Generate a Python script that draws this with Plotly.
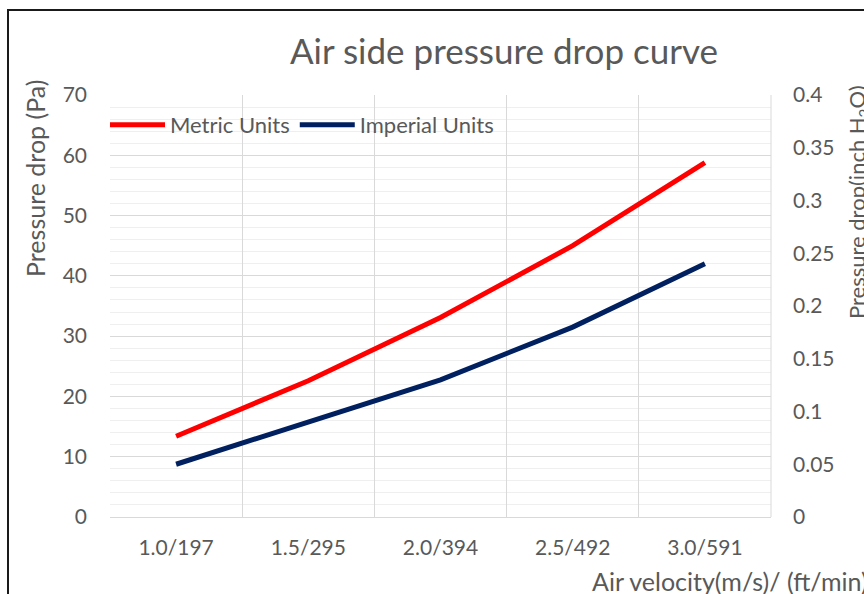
import plotly.graph_objects as go

categories = ["1.0/197", "1.5/295", "2.0/394", "2.5/492", "3.0/591"]
metric_pa = [13.4, 22.6, 33.1, 45.0, 58.8]
imperial_inh2o = [0.05, 0.09, 0.13, 0.18, 0.24]

W, H = 864, 594
L, R, T, B = 110, 93, 95, 77
pw, ph = W - L - R, H - T - B

def px(x):
    return (x - L) / pw

def py(y):
    return (H - B - y) / ph

FONT = "Lato"
GRAY = "#595959"

fig = go.Figure()
fig.add_trace(go.Scatter(x=categories, y=metric_pa, name="Metric Units", mode="lines",
                         line=dict(color="#FF0000", width=5), yaxis="y"))
fig.add_trace(go.Scatter(x=categories, y=imperial_inh2o, name="Imperial Units", mode="lines",
                         line=dict(color="#002060", width=5), yaxis="y2"))

fig.update_layout(
    width=W, height=H,
    margin=dict(l=L, r=R, t=T, b=B),
    paper_bgcolor="white", plot_bgcolor="white",
    font=dict(family=FONT, color=GRAY, size=21),
    title=dict(text="Air side pressure drop curve", xref="container", x=504 / W, xanchor="center",
               yref="container", y=1 - 52 / H, yanchor="middle", font=dict(size=35, color=GRAY)),
    showlegend=True,
    legend=dict(orientation="h", x=px(105), xanchor="left", y=py(125), yanchor="middle",
                bgcolor="rgba(0,0,0,0)", font=dict(size=22, color=GRAY),
                itemwidth=55, tracegroupgap=0),
    xaxis=dict(type="category", range=[-0.5, 4.5], tickson="boundaries",
               showgrid=True, gridcolor="#d9d9d9", gridwidth=1,
               showline=True, linecolor="#d9d9d9", ticks="", zeroline=False,
               tickfont=dict(size=21, color=GRAY), ticklabelstandoff=12),
    yaxis=dict(range=[0, 70], dtick=10, showgrid=True, gridcolor="#d9d9d9",
               zeroline=False, showline=False, ticks="",
               tickfont=dict(size=21, color=GRAY), ticklabelstandoff=22,
               minor=dict(dtick=2, showgrid=True, gridcolor="#efefef", gridwidth=1)),
    yaxis2=dict(range=[0, 0.4], dtick=0.05, overlaying="y", side="right",
                showgrid=False, zeroline=False, showline=False, ticks="",
                tickfont=dict(size=21, color=GRAY), ticklabelstandoff=21),
)

# right edge of plot frame line
fig.add_shape(type="line", xref="paper", yref="paper", x0=1, x1=1, y0=0, y1=1,
              line=dict(color="#d9d9d9", width=1))

# outer chart border (cut off at right/bottom)
fig.add_shape(type="rect", xref="paper", yref="paper",
              x0=px(8), x1=px(880), y0=py(10), y1=py(610),
              line=dict(color="#1a1a1a", width=2), layer="above")

fig.add_annotation(text="Pressure drop (Pa)", xref="paper", yref="paper",
                   x=px(35), y=py(179), textangle=-90, showarrow=False,
                   xanchor="center", yanchor="middle", font=dict(size=25, color=GRAY))
fig.add_annotation(text="Pressure drop(inch H<sub>2</sub>O)", xref="paper", yref="paper",
                   x=px(858), y=py(202), textangle=-90, showarrow=False,
                   xanchor="center", yanchor="middle", font=dict(size=22, color=GRAY))
fig.add_annotation(text="Air velocity(m/s)/ (ft/min)", xref="paper", yref="paper",
                   x=px(590), y=py(581), showarrow=False,
                   xanchor="left", yanchor="middle", font=dict(size=25, color=GRAY))

fig.write_html("out.html")
